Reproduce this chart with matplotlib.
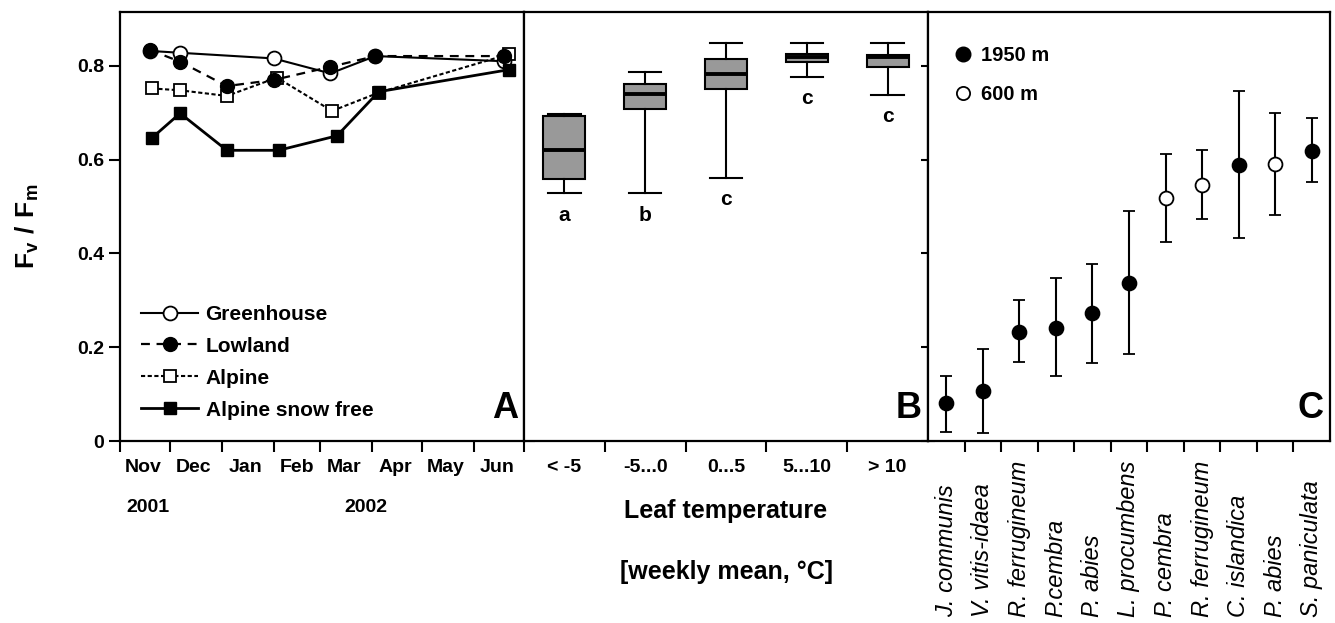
import numpy as np
import pandas as pd
import matplotlib
matplotlib.use("Agg")
import matplotlib.pyplot as plt
import matplotlib.dates as mdates
import matplotlib.transforms as mtransforms
from matplotlib.lines import Line2D

plt.rcParams['font.family'] = ['Liberation Sans', 'DejaVu Sans']
plt.rcParams['mathtext.fontset'] = 'custom'
plt.rcParams['mathtext.bf'] = 'Liberation Sans:bold'
plt.rcParams['mathtext.rm'] = 'Liberation Sans:bold'

# -----------------------------
# Data
# -----------------------------
# Panel A: seasonal course
gh_dates = ["2001-11-19", "2001-12-07", "2002-02-01", "2002-03-07", "2002-04-03", "2002-06-19"]
gh_vals = [0.832, 0.828, 0.816, 0.784, 0.821, 0.810]

low_dates = ["2001-11-19", "2001-12-07", "2002-01-04", "2002-02-01", "2002-03-07", "2002-04-03", "2002-06-19"]
low_vals = [0.834, 0.809, 0.757, 0.770, 0.798, 0.821, 0.821]

alp_dates = ["2001-11-20", "2001-12-07", "2002-01-04", "2002-02-03", "2002-03-08", "2002-04-05", "2002-06-22"]
alp_vals = [0.752, 0.748, 0.736, 0.775, 0.704, 0.743, 0.825]

sf_dates = ["2001-11-20", "2001-12-07", "2002-01-04", "2002-02-04", "2002-03-11", "2002-04-05", "2002-06-22"]
sf_vals = [0.646, 0.699, 0.620, 0.620, 0.651, 0.745, 0.792]

# Panel B: leaf temperature classes
temp_classes = ["< -5", "-5...0", "0...5", "5...10", "> 10"]
box_whislo = [0.528, 0.528, 0.561, 0.777, 0.738]
box_q1 = [0.559, 0.708, 0.750, 0.809, 0.798]
box_med = [0.621, 0.741, 0.782, 0.819, 0.818]
box_q3 = [0.694, 0.761, 0.814, 0.826, 0.823]
box_whishi = [0.697, 0.788, 0.848, 0.848, 0.848]
box_letters = ["a", "b", "c", "c", "c"]

# Panel C: species
species = ["J. communis", "V. vitis-idaea", "R. ferrugineum", "P.cembra", "P. abies",
           "L. procumbens", "P. cembra", "R. ferrugineum", "C. islandica", "P. abies",
           "S. paniculata"]
sp_mean = [0.080, 0.107, 0.233, 0.242, 0.273, 0.337, 0.518, 0.547, 0.589, 0.591, 0.619]
sp_upper = [0.139, 0.197, 0.300, 0.348, 0.378, 0.490, 0.613, 0.621, 0.747, 0.699, 0.689]
sp_lower = [0.020, 0.018, 0.169, 0.138, 0.167, 0.185, 0.424, 0.474, 0.433, 0.482, 0.552]
sp_site = ["1950", "1950", "1950", "1950", "1950", "1950", "600", "600", "1950", "600", "1950"]

yticks = [0, 0.2, 0.4, 0.6, 0.8]
ytick_labels = ["0", "0.2", "0.4", "0.6", "0.8"]
YMAX = 0.915

# -----------------------------
# Figure
# -----------------------------
fig = plt.figure(figsize=(13.35, 6.23), dpi=100)
bottom = (623 - 441) / 623
height = 429 / 623
axA = fig.add_axes([120 / 1335, bottom, 404 / 1335, height])
axB = fig.add_axes([524 / 1335, bottom, 404 / 1335, height])
axC = fig.add_axes([928 / 1335, bottom, 402 / 1335, height])

for ax in (axA, axB, axC):
    ax.set_ylim(0, YMAX)
    for s in ax.spines.values():
        s.set_linewidth(1.6)
    ax.set_yticks(yticks)
    ax.tick_params(axis='both', which='major', width=1.5, length=8, labelsize=14)
    ax.tick_params(axis='x', which='minor', length=0)

# --- Panel A ---
ms_c, ms_s = 10, 9
axA.plot(pd.to_datetime(gh_dates), gh_vals, '-', color='black', lw=1.5,
         marker='o', ms=ms_c, mfc='white', mec='black', mew=1.3, label='Greenhouse', zorder=3)
axA.plot(pd.to_datetime(alp_dates), alp_vals, color='black', lw=1.5, ls=(0, (2, 1.2)),
         marker='s', ms=ms_s, mfc='white', mec='black', mew=1.3, label='Alpine', zorder=2)
axA.plot(pd.to_datetime(low_dates), low_vals, color='black', lw=1.6, ls=(0, (4, 3)),
         marker='o', ms=ms_c, mfc='black', mec='black', label='Lowland', zorder=4)
axA.plot(pd.to_datetime(sf_dates), sf_vals, '-', color='black', lw=2,
         marker='s', ms=ms_s, mfc='black', mec='black', label='Alpine snow free', zorder=5)

axA.set_xlim(pd.Timestamp("2001-11-01"), pd.Timestamp("2002-07-01"))
axA.xaxis.set_major_locator(mdates.MonthLocator())
axA.xaxis.set_major_formatter(plt.NullFormatter())
axA.xaxis.set_minor_locator(mdates.MonthLocator(bymonthday=15))
axA.xaxis.set_minor_formatter(mdates.DateFormatter('%b'))
axA.tick_params(axis='x', which='minor', labelsize=14, pad=13)
axA.set_yticklabels(ytick_labels)
for lab in axA.get_yticklabels() + axA.get_xticklabels(minor=True):
    lab.set_fontweight('bold')
axA.tick_params(axis='y', right=True, direction='out')

handles, labels = axA.get_legend_handles_labels()
order = [labels.index(n) for n in ['Greenhouse', 'Lowland', 'Alpine', 'Alpine snow free']]
axA.legend([handles[i] for i in order], [labels[i] for i in order],
           loc='lower left', bbox_to_anchor=(0.052, 0.05), frameon=False,
           borderpad=0, borderaxespad=0,
           handlelength=2.75, handletextpad=0.35, labelspacing=0.62,
           prop={'weight': 'bold', 'size': 15})

axA.text(0.069, -0.156, "2001", transform=axA.transAxes, ha='center', va='center',
         fontsize=14, fontweight='bold')
axA.text(0.609, -0.156, "2002", transform=axA.transAxes, ha='center', va='center',
         fontsize=14, fontweight='bold')
axA.text(0.985, 0.035, "A", transform=axA.transAxes, ha='right', va='bottom',
         fontsize=26, fontweight='bold')
axA.set_ylabel(r"$\mathbf{F_v\ /\ F_m}$", fontsize=19, labelpad=26)

# --- Panel B ---
stats = []
for i in range(len(temp_classes)):
    stats.append(dict(whislo=box_whislo[i], q1=box_q1[i], med=box_med[i],
                      q3=box_q3[i], whishi=box_whishi[i], fliers=[]))
pos = np.arange(1, len(temp_classes) + 1)
axB.bxp(stats, positions=pos, widths=0.52, patch_artist=True, showfliers=False,
        capwidths=0.4,
        boxprops=dict(facecolor='#999999', edgecolor='black', linewidth=1.5),
        medianprops=dict(color='black', linewidth=2.8),
        whiskerprops=dict(color='black', linewidth=1.5),
        capprops=dict(color='black', linewidth=1.5))
for i, let in enumerate(box_letters):
    axB.text(pos[i], box_whislo[i] - 0.046, let, ha='center', va='center',
             fontsize=15, fontweight='bold')
axB.set_xlim(0.5, len(temp_classes) + 0.5)
axB.set_xticks(np.arange(1.5, len(temp_classes), 1.0))
axB.set_xticklabels([])
axB.set_xticks(pos, minor=True)
axB.set_xticklabels(temp_classes, minor=True, fontsize=14, fontweight='bold')
axB.tick_params(axis='x', which='minor', pad=13)
axB.set_yticklabels([])
axB.tick_params(axis='y', left=False, right=True, direction='inout', length=10)
axB.text(0.5, -0.163, "Leaf temperature", transform=axB.transAxes, ha='center', va='center',
         fontsize=18, fontweight='bold')
axB.text(0.5, -0.305, "[weekly mean, \u00b0C]", transform=axB.transAxes, ha='center', va='center',
         fontsize=18, fontweight='bold')
axB.text(0.985, 0.035, "B", transform=axB.transAxes, ha='right', va='bottom',
         fontsize=26, fontweight='bold')

# --- Panel C ---
xc = np.arange(1, len(species) + 1)
mean = np.array(sp_mean)
err = np.vstack([mean - np.array(sp_lower), np.array(sp_upper) - mean])
for i in range(len(species)):
    face = 'black' if sp_site[i] == "1950" else 'white'
    axC.errorbar(xc[i], mean[i], yerr=err[:, i:i + 1], fmt='o', color='black',
                 ms=10, mfc=face, mec='black', mew=1.3, elinewidth=1.5,
                 capsize=4.5, capthick=1.5, zorder=3)
axC.set_xlim(0.5, len(species) + 0.5)
axC.set_xticks(np.arange(1.5, len(species), 1.0))
axC.set_xticklabels([])
axC.set_yticklabels([])
axC.tick_params(axis='y', left=False, right=False)

# species names, rotated and aligned at their start (bottom)
trans = mtransforms.blended_transform_factory(axC.transData, axC.transAxes)
for i, name in enumerate(species):
    axC.text(xc[i], -0.41, name, transform=trans, rotation=90, ha='center', va='bottom',
             fontsize=17, fontstyle='italic')

leg_handles = [Line2D([], [], ls='none', marker='o', ms=10.5, mfc='black', mec='black'),
               Line2D([], [], ls='none', marker='o', ms=9.5, mfc='white', mec='black', mew=1.3)]
axC.legend(leg_handles, ["1950 m", "600 m"], loc='upper left', bbox_to_anchor=(0.068, 0.92),
           frameon=False, borderpad=0, borderaxespad=0,
           handlelength=0.8, handletextpad=0.45, labelspacing=1.0,
           prop={'weight': 'bold', 'size': 14.5})
axC.text(0.985, 0.035, "C", transform=axC.transAxes, ha='right', va='bottom',
         fontsize=26, fontweight='bold')

fig.savefig("out.png", dpi=100)
